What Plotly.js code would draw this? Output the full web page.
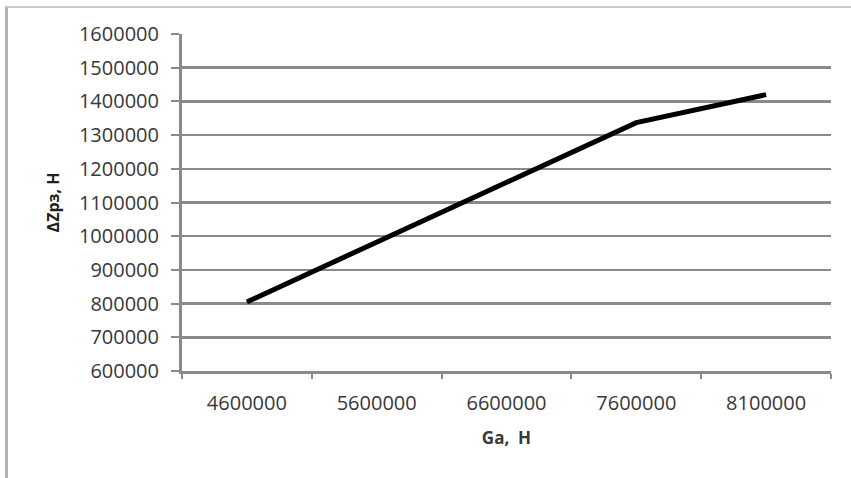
<!DOCTYPE html>
<html>
<head>
<meta charset="utf-8">
<script src="https://cdn.plot.ly/plotly-3.0.1.min.js"></script>
<style>
  html, body { margin: 0; padding: 0; background: #fff; }
  #frame { position: absolute; left: 5px; top: 6px; width: 846px; height: 472px;
           border-left: 3px solid #b4b4b4; border-top: 2px solid #c8c8c8; box-sizing: border-box; }
  #chart { position: absolute; left: 0; top: 0; width: 851px; height: 478px; }
</style>
</head>
<body>
<div id="frame"></div>
<div id="chart"></div>
<script>
const categories = ["4600000", "5600000", "6600000", "7600000", "8100000"];
const deltaZ = [805000, 982000, 1160000, 1337000, 1420000];
const yTickVals = [600000, 700000, 800000, 900000, 1000000, 1100000, 1200000, 1300000, 1400000, 1500000, 1600000];

const gridCol = "#8a8a8a";
const fontFam = "'Open Sans', 'Liberation Sans', sans-serif";

const trace = {
  x: categories,
  y: deltaZ,
  type: "scatter",
  mode: "lines",
  line: { color: "#000000", width: 5 },
  hoverinfo: "skip"
};

const layout = {
  width: 851,
  height: 478,
  paper_bgcolor: "rgba(0,0,0,0)",
  plot_bgcolor: "#ffffff",
  margin: { l: 182, r: 20, t: 34, b: 107 },
  showlegend: false,
  font: { family: fontFam, color: "#383838", size: 20 },
  xaxis: {
    type: "category",
    range: [-0.5, 4.5],
    tickson: "boundaries",
    ticks: "outside",
    ticklen: 5,
    tickwidth: 2,
    tickcolor: gridCol,
    showline: true,
    linecolor: gridCol,
    linewidth: 3,
    showgrid: false,
    zeroline: false,
    tickfont: { family: fontFam, size: 20, color: "#383838" },
    ticklabelstandoff: 12,
    title: { text: "Ga,  Н", font: { family: fontFam, size: 17, color: "#383838", weight: "bold" }, standoff: 18 }
  },
  yaxis: {
    range: [600000, 1600000],
    tickmode: "array",
    tickvals: yTickVals,
    ticktext: yTickVals.map(String),
    ticks: "outside",
    ticklen: 8,
    tickwidth: 2,
    tickcolor: gridCol,
    showline: true,
    linecolor: gridCol,
    linewidth: 3,
    showgrid: true,
    gridcolor: gridCol,
    gridwidth: 2.5,
    zeroline: false,
    tickfont: { family: fontFam, size: 20, color: "#383838" },
    ticklabelstandoff: 8,
    title: { text: "ΔZрз, Н", font: { family: fontFam, size: 16, color: "#202020", weight: "bold" }, standoff: 16 }
  }
};

Plotly.newPlot("chart", [trace], layout, { staticPlot: true, displayModeBar: false });
</script>
</body>
</html>
